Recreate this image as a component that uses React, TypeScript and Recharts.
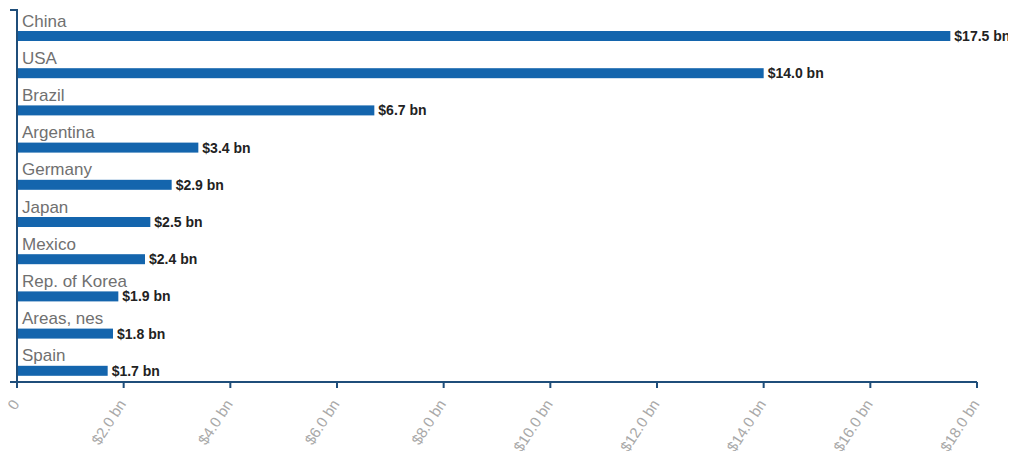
import { BarChart, Bar, XAxis, YAxis, LabelList } from "recharts";

const countries = [
  "China",
  "USA",
  "Brazil",
  "Argentina",
  "Germany",
  "Japan",
  "Mexico",
  "Rep. of Korea",
  "Areas, nes",
  "Spain",
];
const values = [17.5, 14.0, 6.7, 3.4, 2.9, 2.5, 2.4, 1.9, 1.8, 1.7];
const xTicks = [0, 2, 4, 6, 8, 10, 12, 14, 16, 18];

const data = countries.map((name, i) => ({ name, value: values[i] }));

const AXIS = "#1f4e7a";
const BAR = "#1465ad";
const SHIFT = 7;

function fmtTick(v: number) {
  return v === 0 ? "0" : `$${v.toFixed(1)} bn`;
}

function BarShape(props: any) {
  const { x, y, width, height } = props;
  return <rect x={x} y={y + SHIFT} width={width} height={height} fill={BAR} />;
}

function ValueLabel(props: any) {
  const { x, y, width, height, value } = props;
  return (
    <text
      x={x + width + 4}
      y={y + SHIFT + height / 2 + 5}
      fontSize={14}
      fontWeight="bold"
      fill="#222"
      fontFamily="Liberation Sans, Arial, sans-serif"
    >
      {`$${Number(value).toFixed(1)} bn`}
    </text>
  );
}

function CategoryTick(props: any) {
  const { y, payload } = props;
  return (
    <text
      x={22}
      y={y - 2}
      fontSize={17}
      fill="#707070"
      fontFamily="Liberation Sans, Arial, sans-serif"
    >
      {payload.value}
    </text>
  );
}

function XTick(props: any) {
  const { x, y, payload } = props;
  return (
    <g transform={`translate(${x + 3},${y + 16}) rotate(-57)`}>
      <text
        textAnchor="end"
        fontSize={15}
        fill="#a8a8a8"
        fontFamily="Liberation Sans, Arial, sans-serif"
      >
        {fmtTick(payload.value)}
      </text>
    </g>
  );
}

export default function App() {
  return (
    <div style={{ position: "relative", width: 1016, height: 459, margin: -8 }}>
      <BarChart
        width={1016}
        height={459}
        data={data}
        layout="vertical"
        margin={{ top: 10, right: 39, left: 8, bottom: 0 }}
        barSize={10}
      >
        <XAxis
          type="number"
          domain={[0, 18]}
          ticks={xTicks}
          height={77}
          stroke={AXIS}
          strokeWidth={2}
          tickSize={6}
          tickMargin={0}
          tick={<XTick />}
          interval={0}
        />
        <YAxis
          type="category"
          dataKey="name"
          width={9}
          stroke={AXIS}
          strokeWidth={2}
          tickLine={false}
          tick={<CategoryTick />}
          interval={0}
        />
        <Bar dataKey="value" shape={<BarShape />} isAnimationActive={false}>
          <LabelList dataKey="value" content={<ValueLabel />} />
        </Bar>
      </BarChart>
      <svg
        width={20}
        height={390}
        style={{ position: "absolute", left: 0, top: 0, pointerEvents: "none" }}
      >
        <line x1={10} y1={10} x2={18} y2={10} stroke={AXIS} strokeWidth={2} />
        <line x1={10} y1={382} x2={18} y2={382} stroke={AXIS} strokeWidth={2} />
      </svg>
    </div>
  );
}
